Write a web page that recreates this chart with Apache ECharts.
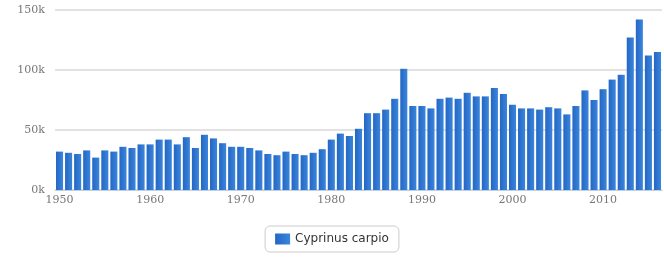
<!DOCTYPE html>
<html>
<head>
<meta charset="utf-8">
<script src="https://cdn.jsdelivr.net/npm/echarts@6/dist/echarts.min.js"></script>
<style>
  html, body { margin: 0; padding: 0; background: #fff; }
  #main { width: 664px; height: 259px; }
</style>
</head>
<body>
<div id="main"></div>
<script>
// years 1950 - 2016
const years = [];
for (let y = 1950; y <= 2016; y += 1) years.push(String(y));

// catch values (tonnes)
const carpValues = [
  32, 31, 30, 33, 27, 33, 32, 36, 35, 38,
  38, 42, 42, 38, 44, 35, 46, 43, 39, 36,
  36, 35, 33, 30, 29, 32, 30, 29, 31, 34,
  42, 47, 45, 51, 64, 64, 67, 76, 101, 70,
  70, 68, 76, 77, 76, 81, 78, 78, 85, 80,
  71, 68, 68, 67, 69, 68, 63, 70, 83, 75,
  84, 92, 96, 127, 142, 112, 115
].map(v => v * 1000);

const yTicks = [0, 50000, 100000, 150000];

const myChart = echarts.init(document.getElementById('main'));
const option = {
  animation: false,
  grid: { left: 55, right: 2, top: 10, bottom: 69 },
  legend: {
    data: ['Cyprinus carpio'],
    bottom: 7,
    left: 'center',
    icon: 'rect',
    itemWidth: 15,
    itemHeight: 11,
    padding: [7, 10],
    borderColor: '#cccccc',
    borderWidth: 1,
    borderRadius: 5,
    textStyle: { color: '#333', fontSize: 12, fontFamily: 'Verdana, DejaVu Sans, sans-serif' }
  },
  xAxis: {
    type: 'category',
    data: years,
    axisLine: { lineStyle: { color: '#c0d0e0' } },
    axisTick: { interval: 0, length: 4, lineStyle: { color: '#c0d0e0' } },
    axisLabel: {
      interval: 9,
      color: '#777',
      fontSize: 11,
      margin: 5,
      fontFamily: 'DejaVu Serif, serif'
    }
  },
  yAxis: {
    type: 'value',
    min: yTicks[0],
    max: yTicks[yTicks.length - 1],
    interval: 50000,
    axisLabel: {
      color: '#777',
      fontSize: 11,
      margin: 10,
      fontFamily: 'DejaVu Serif, serif',
      formatter: v => (v / 1000) + 'k'
    },
    splitLine: { lineStyle: { color: '#e2e2e2', width: 2 } }
  },
  series: [
    {
      name: 'Cyprinus carpio',
      type: 'bar',
      data: carpValues,
      barCategoryGap: '22%',
      itemStyle: {
        color: new echarts.graphic.LinearGradient(0, 0, 1, 0, [
          { offset: 0, color: '#2466c4' },
          { offset: 1, color: '#3a86dc' }
        ])
      }
    }
  ]
};
myChart.setOption(option);
</script>
</body>
</html>
